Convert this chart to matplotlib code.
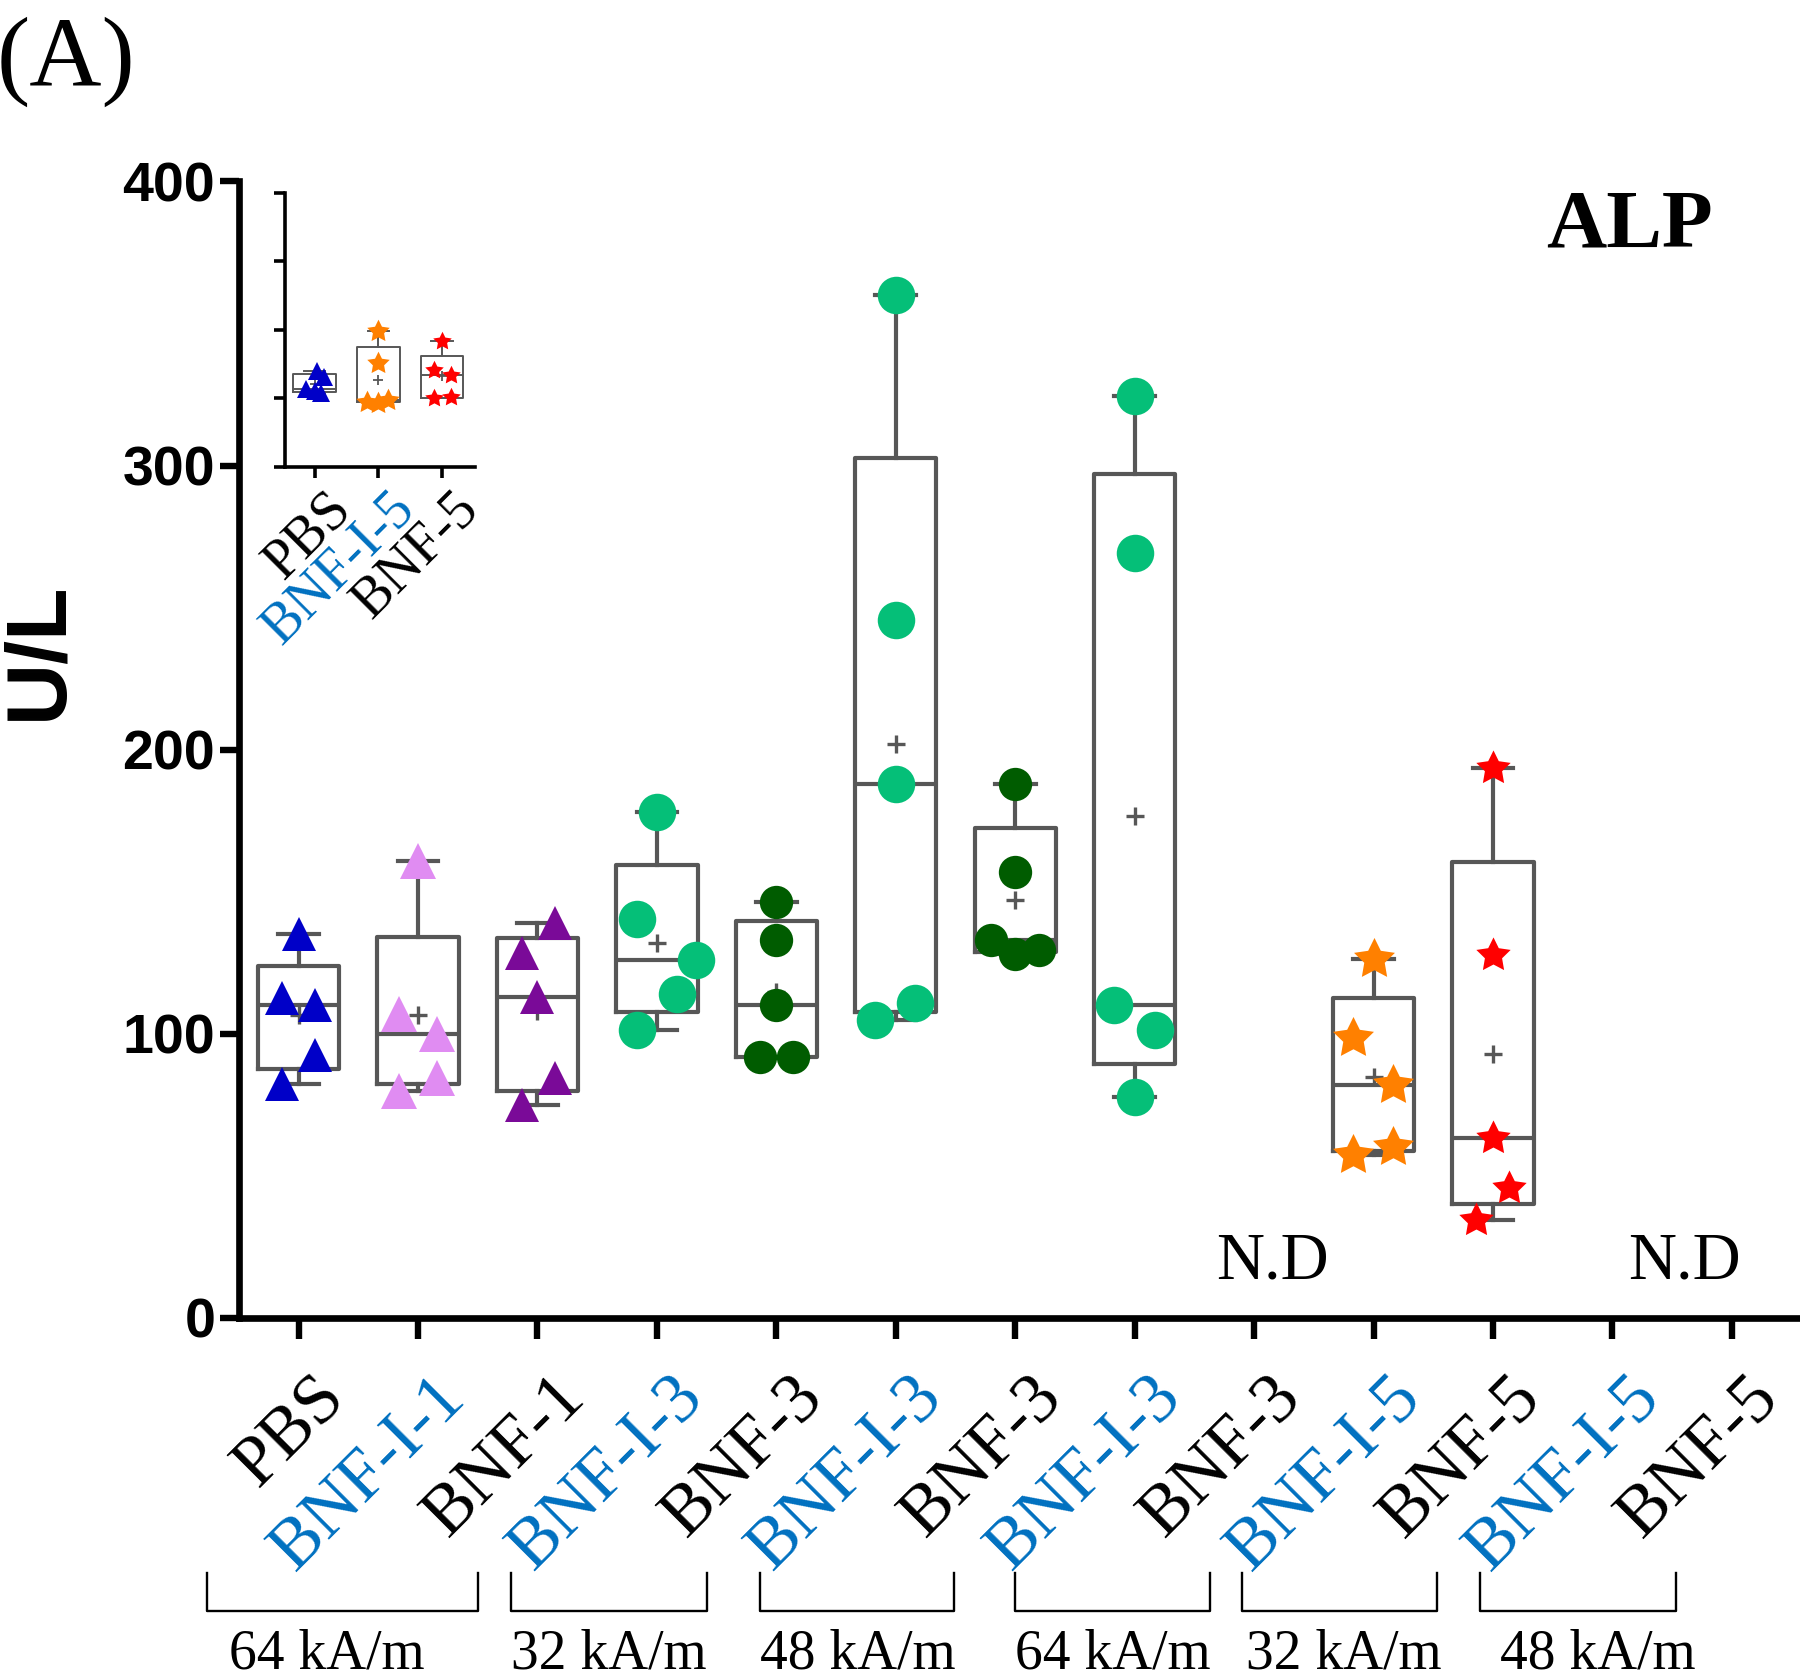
import numpy as np
import matplotlib
matplotlib.use('Agg')
import matplotlib.pyplot as plt
import matplotlib.transforms as mtransforms
from matplotlib.path import Path

# ---------------- data ----------------
categories = ['PBS', 'BNF-I-1', 'BNF-1', 'BNF-I-3', 'BNF-3', 'BNF-I-3', 'BNF-3',
              'BNF-I-3', 'BNF-3', 'BNF-I-5', 'BNF-5', 'BNF-I-5', 'BNF-5']
label_is_blue = [False, True, False, True, False, True, False, True, False, True, False, True, False]
field_labels = ['64 kA/m', '32 kA/m', '48 kA/m', '64 kA/m', '32 kA/m', '48 kA/m']

pbs = [135, 112.5, 110, 92.5, 82.5]
bnf_i_1_64 = [161, 107, 100, 84.5, 80]
bnf_1_64 = [139, 128.5, 113, 84.5, 75]
bnf_i_3_32 = [178, 140.5, 126, 114, 101.5]
bnf_3_32 = [146.5, 133, 110, 92, 92]
bnf_i_3_48 = [360, 245.5, 188, 111, 104.7]
bnf_3_48 = [188, 157, 133, 129.5, 128]
bnf_i_3_64 = [324.6, 269.2, 110.3, 101.2, 77.9]
bnf_i_5_32 = [126.5, 98.7, 82, 60.2, 57.4]
bnf_5_32 = [193.4, 127.7, 63.2, 45.6, 34.5]
nd_label = 'N.D'

inset_categories = ['PBS', 'BNF-I-5', 'BNF-5']
inset_label_is_blue = [False, True, False]
inset_pbs = [140, 131.7, 113, 110, 108]
inset_bnf_i_5 = [197.6, 151.2, 97.6, 95, 92.7]
inset_bnf_5 = [183, 141.5, 134, 101.5, 100]

# ---------------- styles / layout ----------------
BLUE_LBL = '#0070C0'
BOXC = '#575757'
star = Path.unit_regular_star(5, innerCircle=0.5)

# (category index, values, horizontal spread, marker, colour, markersize)
main_series = [
    (0, pbs, [0, -0.14, 0.14, 0.14, -0.14], '^', '#0000C8', 24),
    (1, bnf_i_1_64, [0, -0.16, 0.16, 0.16, -0.16], '^', '#E08CF2', 26),
    (2, bnf_1_64, [0.15, -0.13, 0, 0.15, -0.13], '^', '#7A0A98', 24),
    (3, bnf_i_3_32, [0, -0.17, 0.33, 0.17, -0.17], 'o', '#05BF78', 27),
    (4, bnf_3_32, [0, 0, 0, -0.14, 0.14], 'o', '#005C00', 24),
    (5, bnf_i_3_48, [0, 0, 0, 0.16, -0.17], 'o', '#05BF78', 27),
    (6, bnf_3_48, [0, 0, -0.2, 0.2, 0], 'o', '#005C00', 24),
    (7, bnf_i_3_64, [0, 0, -0.17, 0.17, 0], 'o', '#05BF78', 27),
    (9, bnf_i_5_32, [0, -0.17, 0.16, 0.16, -0.17], star, '#FF8000', 31),
    (10, bnf_5_32, [0, 0, 0, 0.13, -0.14], star, '#FF0000', 26),
]
nd_x = [8.15, 11.6]
bracket_spans = [(-0.77, 1.5), (1.78, 3.42), (3.86, 5.49), (6.0, 7.63), (7.9, 9.53), (9.89, 11.53)]
bracket_text_x = [0.24, 2.6, 4.68, 6.82, 8.75, 10.88]

inset_series = [
    (0, inset_pbs, [0.03, 0.15, -0.13, 0.0, 0.1], '^', '#0000C8', 13),
    (1, inset_bnf_i_5, [0, 0, 0.16, -0.18, 0.0], star, '#FF8000', 17),
    (2, inset_bnf_5, [0, -0.13, 0.14, 0.14, -0.13], star, '#FF0000', 14),
]

SERIF = ['Liberation Serif', 'DejaVu Serif']
SANS = ['Liberation Sans', 'DejaVu Sans']


def box_stats(vals):
    v = np.asarray(vals, float)
    q1, med, q3 = np.percentile(v, [25, 50, 75], method='weibull')
    return dict(med=med, q1=q1, q3=q3, whislo=v.min(), whishi=v.max(), mean=v.mean())


def draw_series(ax, series, width, lw, plus_ms, plus_mew):
    for idx, vals, spread, mk, col, ms in series:
        st = box_stats(vals)
        ax.bxp([st], positions=[idx], widths=width, showmeans=True, showfliers=False,
               capwidths=width * 0.5,
               boxprops=dict(color=BOXC, lw=lw), whiskerprops=dict(color=BOXC, lw=lw),
               capprops=dict(color=BOXC, lw=lw), medianprops=dict(color=BOXC, lw=lw),
               meanprops=dict(marker='+', markeredgecolor=BOXC, markersize=plus_ms,
                              markeredgewidth=plus_mew), manage_ticks=False, zorder=2)
        xs = idx + np.asarray(spread)
        ax.plot(xs, vals, ls='none', marker=mk, color=col, markersize=ms,
                markeredgewidth=0, zorder=3, clip_on=False)


fig = plt.figure(figsize=(18, 16.8), dpi=100)

# ---------------- main axes ----------------
ax = fig.add_axes([0.1327, 0.2155, 1.0 - 0.1327, 0.892 - 0.2155])
ax.set_xlim(-0.5, 12.57)
ax.set_ylim(0, 400)
for s in ['top', 'right']:
    ax.spines[s].set_visible(False)
for s in ['left', 'bottom']:
    ax.spines[s].set_linewidth(4.8)
ax.set_yticks([0, 100, 200, 300, 400])
ax.tick_params(axis='y', width=4.6, length=14, labelsize=40, pad=3)
ax.tick_params(axis='x', width=4.6, length=15)
for t in ax.get_yticklabels():
    t.set_fontfamily(SANS)
    t.set_fontweight('bold')
ax.set_xticks(range(len(categories)))
ax.set_xticklabels([])

draw_series(ax, main_series, 0.68, 3.0, 13, 2.4)

lbl_off = mtransforms.ScaledTranslation(10 / 72, -33 / 72, fig.dpi_scale_trans)
trans_x = mtransforms.blended_transform_factory(ax.transData, ax.transAxes) + lbl_off
for i, (name, blue) in enumerate(zip(categories, label_is_blue)):
    ax.text(i, 0, name, transform=trans_x, rotation=45, rotation_mode='anchor',
            ha='right', va='top', fontsize=51, family=SERIF,
            color=BLUE_LBL if blue else 'black')

for x in nd_x:
    ax.text(x, 14, nd_label, ha='center', va='baseline', fontsize=48, family=SERIF)

# brackets and field labels
bt = mtransforms.blended_transform_factory(ax.transData, fig.transFigure)
y_top, y_bot = 0.0637, 0.041
for (x0, x1), tx, lab in zip(bracket_spans, bracket_text_x, field_labels):
    ax.plot([x0, x0, x1, x1], [y_top, y_bot, y_bot, y_top], color='black', lw=1.7,
            transform=bt, clip_on=False, solid_joinstyle='round')
    ax.text(tx, 0.007, lab, transform=bt, ha='center', va='baseline', fontsize=40,
            family=SERIF)

fig.text(0.022, 0.6125, 'U/L', rotation=90, ha='center', va='center', fontsize=62,
         fontweight='bold', family=SANS)
fig.text(0.9517, 0.853, 'ALP', ha='right', va='baseline', fontsize=60,
         fontweight='bold', family=SERIF)
fig.text(-0.002, 0.949, '(A)', ha='left', va='baseline', fontsize=72, family=SERIF)

# ---------------- inset ----------------
ins = fig.add_axes([0.1582, 0.7222, 0.2639 - 0.1582, 0.8852 - 0.7222])
ins.set_xlim(-0.47, 2.52)
ins.set_ylim(0, 400)
for s in ['top', 'right']:
    ins.spines[s].set_visible(False)
for s in ['left', 'bottom']:
    ins.spines[s].set_linewidth(2.6)
ins.set_yticks([0, 100, 200, 300, 400])
ins.set_yticklabels([])
ins.set_xticks(range(len(inset_categories)))
ins.set_xticklabels([])
ins.tick_params(axis='both', width=2.6, length=8)
ins.patch.set_alpha(0)

draw_series(ins, inset_series, 0.67, 1.4, 7, 1.3)

ilbl_off = mtransforms.ScaledTranslation(7 / 72, -11 / 72, fig.dpi_scale_trans)
itrans = mtransforms.blended_transform_factory(ins.transData, ins.transAxes) + ilbl_off
for i, (name, blue) in enumerate(zip(inset_categories, inset_label_is_blue)):
    ins.text(i, 0, name, transform=itrans, rotation=45, rotation_mode='anchor',
             ha='right', va='top', fontsize=40, family=SERIF,
             color=BLUE_LBL if blue else 'black')

fig.savefig('out.png', dpi=100)
